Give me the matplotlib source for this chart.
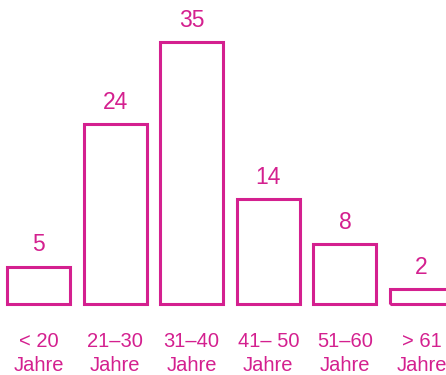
import matplotlib.pyplot as plt

plt.rcParams['font.family'] = ['Liberation Sans', 'DejaVu Sans']

# Daten
kategorien = ['< 20\nJahre', '21–30\nJahre', '31–40\nJahre',
              '41– 50\nJahre', '51–60\nJahre', '> 61\nJahre']
werte = [5, 24, 35, 14, 8, 2]

farbe = '#d4208f'

fig = plt.figure(figsize=(4.46, 3.75), dpi=100)
ax = fig.add_axes([0, 0, 1, 1])

pos = list(range(len(werte)))
ax.bar(pos, werte, width=0.82, facecolor='none', edgecolor=farbe, linewidth=2.2)

# Werte über den Balken
for x, v in zip(pos, werte):
    ax.annotate(str(v), (x, v), xytext=(0, 7.5), textcoords='offset points',
                ha='center', va='bottom', fontsize=16.5, color=farbe)

# Beschriftung unter den Balken
for x, lab in zip(pos, kategorien):
    ax.text(x, -6.6, lab, ha='center', va='center', multialignment='center',
            fontsize=14.5, color=farbe, linespacing=1.3)

ax.set_xlim(-0.5026, 5.32)
ax.set_ylim(-9.48, 40.6)
ax.axis('off')

fig.savefig('out.png', dpi=100)
